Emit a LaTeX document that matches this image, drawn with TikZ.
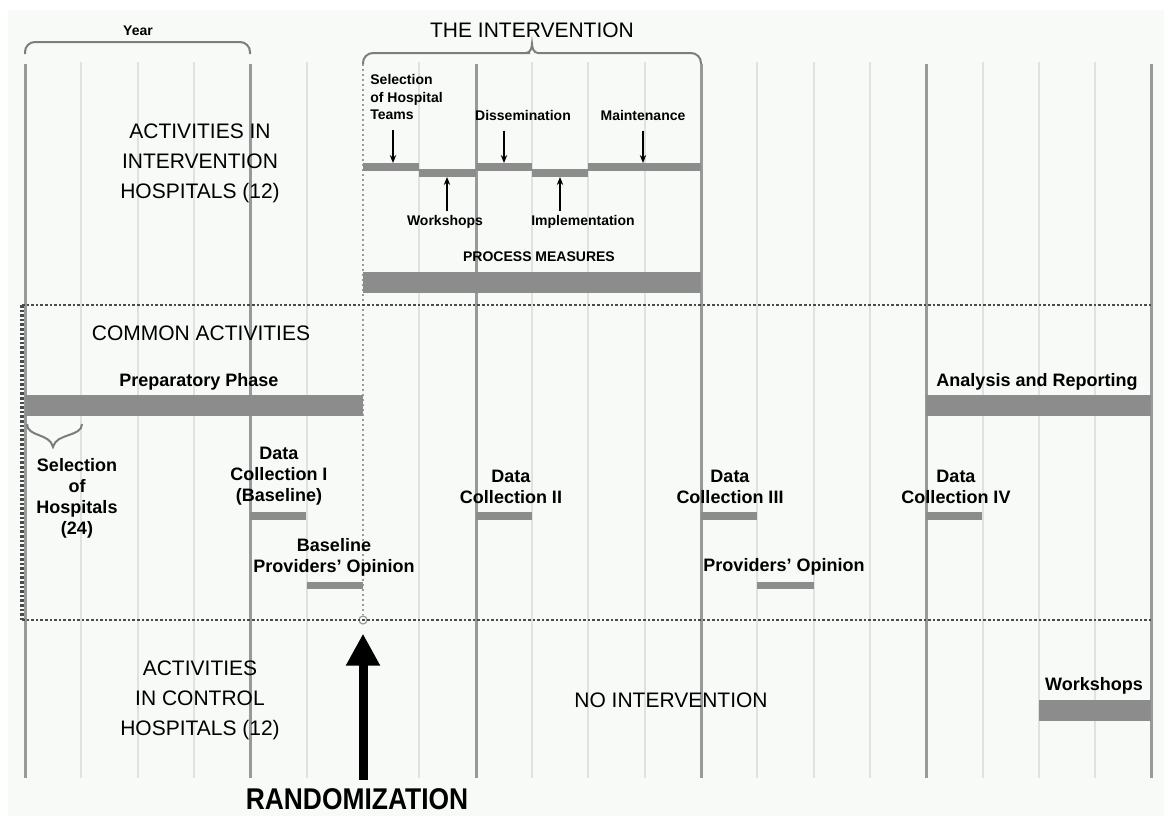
\documentclass[tikz,border=0pt]{standalone}
\usepackage{fontspec}
\setmainfont{Liberation Sans}
\usepackage{graphicx}
\usepackage{tikz}
\usetikzlibrary{arrows.meta,positioning,calc}
\definecolor{bargray}{RGB}{140,140,140}
\definecolor{majorgray}{RGB}{150,154,154}
\definecolor{minorgray}{RGB}{222,226,224}
\definecolor{dotgray}{RGB}{75,75,75}
\definecolor{bracegray}{RGB}{125,125,125}
\definecolor{bggreen}{RGB}{247,250,247}

\begin{document}
\begin{tikzpicture}[x=0.5pt,y=-0.5pt,
  bigtxt/.style={font=\fontsize{10.5}{15}\selectfont,align=center,inner sep=0pt},
  midtxt/.style={font=\fontsize{9}{10.5}\selectfont\bfseries,align=center,inner sep=0pt},
  smalltxt/.style={font=\fontsize{7}{8.7}\selectfont\bfseries,align=center,inner sep=0pt},
  majorline/.style={majorgray,line width=1.5pt},
  minorline/.style={minorgray,line width=1pt},
  bar/.style={fill=bargray},
  boxdots/.style={dotgray,line width=1.4pt,dash pattern=on 1.3pt off 1pt},
  randdots/.style={majorgray,line width=1.1pt,dash pattern=on 1.2pt off 1.3pt},
  tick/.style={-{Stealth[length=4pt,width=3.2pt]},line width=0.9pt},
  randarrow/.style={-{Triangle[length=16pt,width=16pt]},line width=4.5pt},
  bracket/.style={bracegray,line width=1pt}]
  \useasboundingbox (0,0) rectangle (1164,816);
  \fill[bggreen] (8,10) rectangle (1164,816);

  % quarters and years
  \foreach \x in {81,138,194,307,419,532,588,645,757,814,870,983,1039,1095}
    \draw[minorline] (\x,62) -- (\x,778);
  \foreach \x in {25,250,476,701,926,1151}
    \draw[majorline] (\x,64) -- (\x,778);

  % braces
  \draw[bracket,rounded corners=5pt] (25,54) -- (25,42) -- (250,42) -- (250,54);
  \node[smalltxt] (year) at (138,31) {Year};
  \draw[bracket,rounded corners=5pt] (363,64) -- (363,53) -- (520,53)
    [sharp corners] -- (526,53) .. controls (530,53) and (532,48) .. (532,44)
    .. controls (532,48) and (534,53) .. (538,53) [rounded corners=5pt]
    -- (701,53) -- (701,64);
  \node[bigtxt] (theint) at (532,30) {THE INTERVENTION};

  % randomization line
  \node[circle,draw=majorgray,line width=0.6pt,inner sep=0pt,minimum size=4pt] (rdot) at (363,620) {};
  \draw[randdots] (363,64) -- (rdot);

  % common activities frame
  \draw[boxdots] (22,305) -- (1151,305);
  \draw[boxdots] (22,620) -- (1151,620);
  \draw[boxdots,line width=2pt] (22,305) -- (22,620);

  % bars
  \foreach \a/\b/\t in {363/419/163, 419/476/169, 476/532/163, 532/588/169, 588/701/163}
    \fill[bar] (\a,\t) rectangle (\b,{\t+8});
  \fill[bar] (363,272) rectangle (701,293);
  \fill[bar] (25,395) rectangle (363,416);
  \fill[bar] (926,395) rectangle (1151,416);
  \foreach \a in {250,476,701,926}
    \fill[bar] (\a,512) rectangle ({\a+56},520);
  \fill[bar] (307,582) rectangle (363,589);
  \fill[bar] (757,582) rectangle (814,589);
  \fill[bar] (1039,700) rectangle (1151,721);

  \draw[bracket] (27,424) .. controls (27,437) and (50,433) .. (53,447)
    .. controls (56,433) and (82,437) .. (82,424);

  % intervention hospitals
  \node[bigtxt] (acti) at (200,163) {ACTIVITIES IN\\INTERVENTION\\HOSPITALS (12)};
  \node[smalltxt,anchor=west,align=left] (sel) at (370,97) {Selection\\of Hospital\\Teams};
  \node[smalltxt] (dis) at (523,115) {Dissemination};
  \node[smalltxt] (mnt) at (643,115) {Maintenance};
  \node[smalltxt] (wsh) at (445,222) {Workshops};
  \node[smalltxt] (imp) at (583,222) {Implementation};
  \node[smalltxt] (proc) at (539,257) {PROCESS MEASURES};
  \foreach \lbl/\ax in {sel/393, dis/504, mnt/643}{
    \coordinate (\lbl tip) at (\ax,163);
    \draw[tick,shorten <=5pt] (\lbl.south -| \lbl tip) -- (\lbl tip);
  }
  \foreach \lbl/\ax in {wsh/447, imp/560}{
    \coordinate (\lbl tip) at (\ax,177);
    \draw[tick,shorten <=2pt] (\lbl.north -| \lbl tip) -- (\lbl tip);
  }

  % common activities
  \node[bigtxt] (common) at (201,333) {COMMON ACTIVITIES};
  \node[midtxt] (prep) at (199,382) {Preparatory Phase};
  \node[midtxt] (anl) at (1037,382) {Analysis and Reporting};
  \node[midtxt] (selh) at (77,498) {Selection\\of\\Hospitals\\(24)};
  \node[midtxt] (dc1) at (279,476) {Data\\Collection I\\(Baseline)};
  \node[midtxt] (dc2) at (511,487) {Data\\Collection II};
  \node[midtxt] (dc3) at (730,487) {Data\\Collection III};
  \node[midtxt] (dc4) at (956,487) {Data\\Collection IV};
  \node[midtxt] (bpo) at (334,557) {Baseline\\Providers' Opinion};
  \node[midtxt] (po) at (784,567) {Providers' Opinion};

  % control hospitals
  \node[bigtxt] (actc) at (200,700) {ACTIVITIES\\IN CONTROL\\HOSPITALS (12)};
  \node[bigtxt] (noint) at (671,700) {NO INTERVENTION};
  \node[midtxt] (wshc) at (1094,686) {Workshops};

  \node[font=\fontsize{15}{18}\selectfont\bfseries,inner sep=0pt] (rand) at (357,799)
    {\scalebox{0.88}[1]{RANDOMIZATION}};
  \draw[randarrow,shorten <=4pt,shorten >=4.5pt] (rand.north -| rdot) -- (rdot);
\end{tikzpicture}
\end{document}
